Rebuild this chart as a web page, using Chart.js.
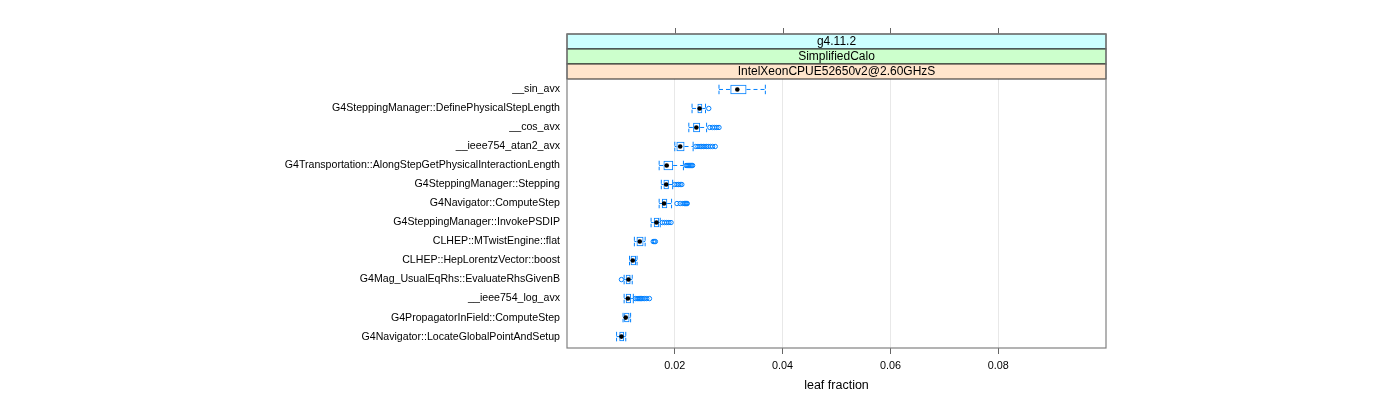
<!DOCTYPE html>
<html>
<head>
<meta charset="utf-8">
<script src="https://cdn.jsdelivr.net/npm/chart.js@4.4.1/dist/chart.umd.min.js"></script>
<style>
  html, body { margin: 0; padding: 0; background: #fff; }
  #wrap { width: 1400px; height: 400px; }
</style>
</head>
<body>
<div id="wrap"><canvas id="leaf-chart" width="1400" height="400"></canvas></div>
<script>
/* leaf fraction per function — boxplot, one row per function (top to bottom) */

const functions = [
  '__sin_avx',
  'G4SteppingManager::DefinePhysicalStepLength',
  '__cos_avx',
  '__ieee754_atan2_avx',
  'G4Transportation::AlongStepGetPhysicalInteractionLength',
  'G4SteppingManager::Stepping',
  'G4Navigator::ComputeStep',
  'G4SteppingManager::InvokePSDIP',
  'CLHEP::MTwistEngine::flat',
  'CLHEP::HepLorentzVector::boost',
  'G4Mag_UsualEqRhs::EvaluateRhsGivenB',
  '__ieee754_log_avx',
  'G4PropagatorInField::ComputeStep',
  'G4Navigator::LocateGlobalPointAndSetup'
];

const whiskerLow  = [0.0282, 0.0232, 0.0226, 0.0200, 0.0171, 0.0175, 0.0171, 0.0156, 0.0125, 0.0116, 0.0106, 0.0106, 0.0104, 0.0092];
const q1          = [0.0303, 0.0242, 0.0234, 0.0203, 0.0179, 0.0179, 0.0176, 0.0161, 0.0129, 0.0118, 0.0109, 0.0109, 0.0106, 0.0097];
const median      = [0.0316, 0.0246, 0.0240, 0.0210, 0.0185, 0.0184, 0.0180, 0.0166, 0.0135, 0.0122, 0.0114, 0.0113, 0.0109, 0.0101];
const q3          = [0.0333, 0.0251, 0.0247, 0.0218, 0.0197, 0.0189, 0.0186, 0.0171, 0.0142, 0.0128, 0.0118, 0.0119, 0.0116, 0.0106];
const whiskerHigh = [0.0368, 0.0257, 0.0259, 0.0234, 0.0216, 0.0196, 0.0194, 0.0173, 0.0145, 0.0130, 0.0121, 0.0123, 0.0118, 0.0109];

const outliers = [
  [],
  [0.0263],
  [0.0265, 0.0270, 0.0274, 0.0278, 0.0282],
  [0.0239, 0.0243, 0.0247, 0.0250, 0.0253, 0.0256, 0.0259, 0.0262, 0.0266, 0.0270, 0.0275],
  [0.0221, 0.0223, 0.0225, 0.0227, 0.0229, 0.0231, 0.0233],
  [0.0200, 0.0204, 0.0207, 0.0210, 0.0213],
  [0.0204, 0.0210, 0.0215, 0.0218, 0.0220, 0.0222, 0.0223],
  [0.0177, 0.0181, 0.0185, 0.0189, 0.0193],
  [0.0160, 0.0162, 0.0164],
  [],
  [0.0101],
  [0.0127, 0.0130, 0.0132, 0.0134, 0.0136, 0.0138, 0.0141, 0.0144, 0.0148, 0.0153],
  [],
  []
];

const xTicks = [0.02, 0.04, 0.06, 0.08];
const strips = ['g4.11.2', 'SimplifiedCalo', 'IntelXeonCPUE52650v2@2.60GHzS'];
const stripColors = ['#ccffff', '#ccffcc', '#ffe5cc'];

const BLUE = '#0080ff';
const FONT = "'Liberation Sans', Arial, Helvetica, sans-serif";
const CAP = 0.25;           // half box height, in rows
const GAP = { x: null, y: null };
const row = i => i + 1;

// build plot data from the arrays
const boxData = functions.map((f, i) => ({ y: row(i), x: [q1[i], q3[i]] }));
const medData = median.map((v, i) => ({ x: v, y: row(i) }));
const outData = outliers.flatMap((vals, i) => vals.map(v => ({ x: v, y: row(i) })));
const whiskData = functions.flatMap((f, i) => [
  { x: whiskerLow[i], y: row(i) }, { x: q1[i], y: row(i) }, GAP,
  { x: q3[i], y: row(i) }, { x: whiskerHigh[i], y: row(i) }, GAP
]);
const capData = functions.flatMap((f, i) => [
  { x: whiskerLow[i], y: row(i) - CAP }, { x: whiskerLow[i], y: row(i) + CAP }, GAP,
  { x: whiskerHigh[i], y: row(i) - CAP }, { x: whiskerHigh[i], y: row(i) + CAP }, GAP
]);

// strips, top ticks and panel frame (lattice look)
const panelDecor = {
  id: 'panelDecor',
  afterDraw(chart) {
    const { ctx, chartArea: a, scales: { x } } = chart;
    const h = 15;
    const top = a.top - h * strips.length;
    const w = a.right - a.left;
    ctx.save();
    strips.forEach((label, k) => {
      const y0 = top + h * k;
      ctx.fillStyle = stripColors[k];
      ctx.fillRect(a.left, y0, w, h);
      ctx.strokeStyle = '#222';
      ctx.lineWidth = 1;
      ctx.strokeRect(a.left, y0, w, h);
      ctx.fillStyle = '#000';
      ctx.font = `12px ${FONT}`;
      ctx.textAlign = 'center';
      ctx.textBaseline = 'middle';
      ctx.fillText(label, a.left + w / 2, y0 + h / 2 + 0.5);
    });
    ctx.strokeStyle = '#666';
    ctx.lineWidth = 1;
    ctx.beginPath();
    xTicks.forEach(v => {
      const px = Math.round(x.getPixelForValue(v)) + 0.5;
      ctx.moveTo(px, top);
      ctx.lineTo(px, top - 6);
    });
    ctx.stroke();
    ctx.strokeStyle = '#808080';
    ctx.lineWidth = 1.2;
    ctx.strokeRect(a.left, top, w, a.bottom - top);
    ctx.restore();
  }
};

new Chart(document.getElementById('leaf-chart'), {
  type: 'scatter',
  data: {
    datasets: [
      { type: 'scatter', data: medData, pointRadius: 2.3, pointBackgroundColor: '#000', pointBorderWidth: 0 },
      { type: 'scatter', data: outData, pointRadius: 2.2, pointBorderColor: BLUE, pointBackgroundColor: 'rgba(0,0,0,0)', pointBorderWidth: 1 },
      { type: 'bar', indexAxis: 'y', data: boxData, borderColor: BLUE, hoverBorderColor: BLUE, borderWidth: 1,
        backgroundColor: 'rgba(0,0,0,0)', borderSkipped: false, barPercentage: 0.5, categoryPercentage: 1 },
      { type: 'scatter', data: whiskData, showLine: true, borderColor: BLUE, borderWidth: 1, borderDash: [4, 3], pointRadius: 0 },
      { type: 'scatter', data: capData, showLine: true, borderColor: BLUE, borderWidth: 1, borderDash: [4, 2], pointRadius: 0 }
    ]
  },
  options: {
    responsive: false,
    animation: false,
    layout: { padding: { top: 79, right: 294, bottom: 0, left: 0 } },
    plugins: { legend: { display: false }, tooltip: { enabled: false } },
    scales: {
      x: {
        type: 'linear', min: 0, max: 0.1, offset: false,
        afterBuildTicks: s => { s.ticks = xTicks.map(v => ({ value: v })); },
        afterFit: s => { s.height = 52; },
        grid: { color: '#e8e8e8', drawTicks: true, tickLength: 6, tickColor: '#666', tickWidth: 1, offset: false },
        border: { display: false },
        ticks: { color: '#000', font: { family: FONT, size: 10.8 }, padding: 6, maxRotation: 0, autoSkip: false,
                 callback: v => v.toFixed(2) },
        title: { display: true, text: 'leaf fraction', color: '#000',
                 font: { family: FONT, size: 12.5, lineHeight: 1.2 }, padding: { top: 0, bottom: 7 } }
      },
      y: {
        type: 'linear', reverse: true, min: 0.45, max: functions.length + 0.6, offset: false,
        afterBuildTicks: s => { s.ticks = functions.map((f, i) => ({ value: row(i) })); },
        afterFit: s => { s.width = 567; },
        grid: { display: false, drawTicks: false, offset: false },
        border: { display: false },
        ticks: { color: '#000', font: { family: FONT, size: 10.6 }, padding: 7, autoSkip: false,
                 callback: v => functions[v - 1] }
      }
    }
  },
  plugins: [panelDecor]
});
</script>
</body>
</html>
